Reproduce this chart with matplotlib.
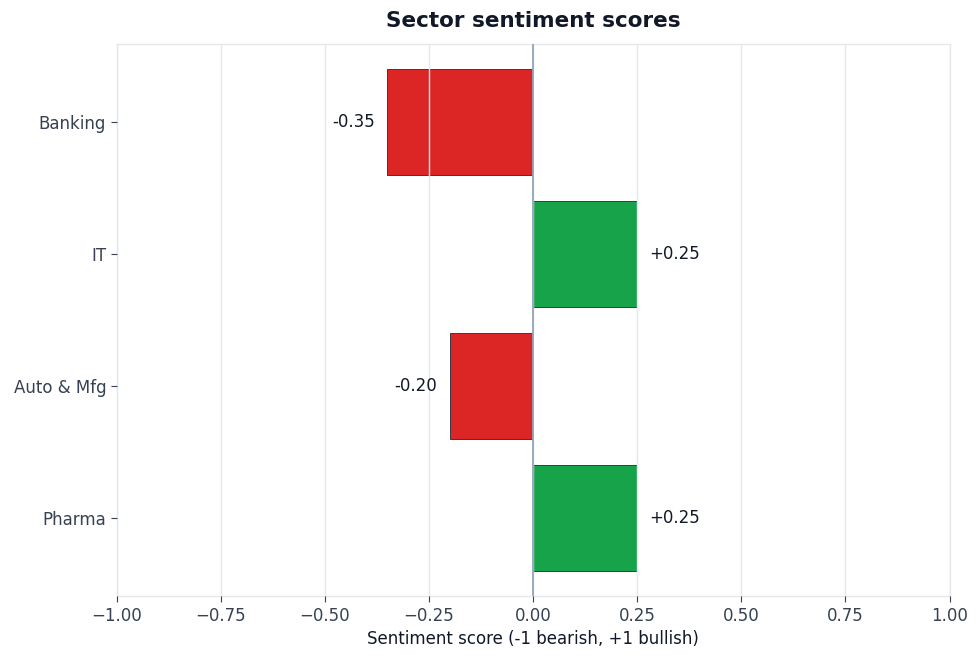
import numpy as np
import matplotlib
matplotlib.use("Agg")
import matplotlib.pyplot as plt

# data
sectors = ["Banking", "IT", "Auto & Mfg", "Pharma"]
scores = [-0.35, 0.25, -0.20, 0.25]

neg_color = "#dc2626"
pos_color = "#16a34a"

fig, ax = plt.subplots(figsize=(9.8, 6.58), dpi=100)
fig.subplots_adjust(left=0.119, right=0.969, top=0.933, bottom=0.094)

y = np.arange(len(sectors))
colors = [pos_color if s >= 0 else neg_color for s in scores]
ax.barh(y, scores, height=0.8, color=colors, edgecolor="#1f2937", linewidth=0.6, zorder=1)

ax.set_xlim(-1, 1)
ax.set_yticks(y)
ax.set_yticklabels(sectors)
ax.invert_yaxis()

ax.set_xticks(np.arange(-1, 1.01, 0.25))
ax.grid(axis="x", color="#e5e7eb", linewidth=1.0, zorder=2)
ax.set_axisbelow(False)
ax.axvline(0, color="#94a3b8", linewidth=1.3, zorder=3)

# value labels next to each bar
for yi, s in zip(y, scores):
    if s >= 0:
        ax.text(s + 0.03, yi, f"+{s:.2f}", va="center", ha="left", fontsize=12, color="#111827")
    else:
        ax.text(s - 0.03, yi, f"{s:.2f}", va="center", ha="right", fontsize=12, color="#111827")

for sp in ax.spines.values():
    sp.set_color("#e5e7eb")
    sp.set_linewidth(1.0)

ax.tick_params(axis="both", labelsize=12, labelcolor="#374151", color="#374151", length=4)
ax.set_xlabel("Sentiment score (-1 bearish, +1 bullish)", fontsize=12, color="#111827")
ax.set_title("Sector sentiment scores", fontsize=15.5, fontweight="bold", color="#111827", pad=12)

plt.savefig("out.png", dpi=100)
